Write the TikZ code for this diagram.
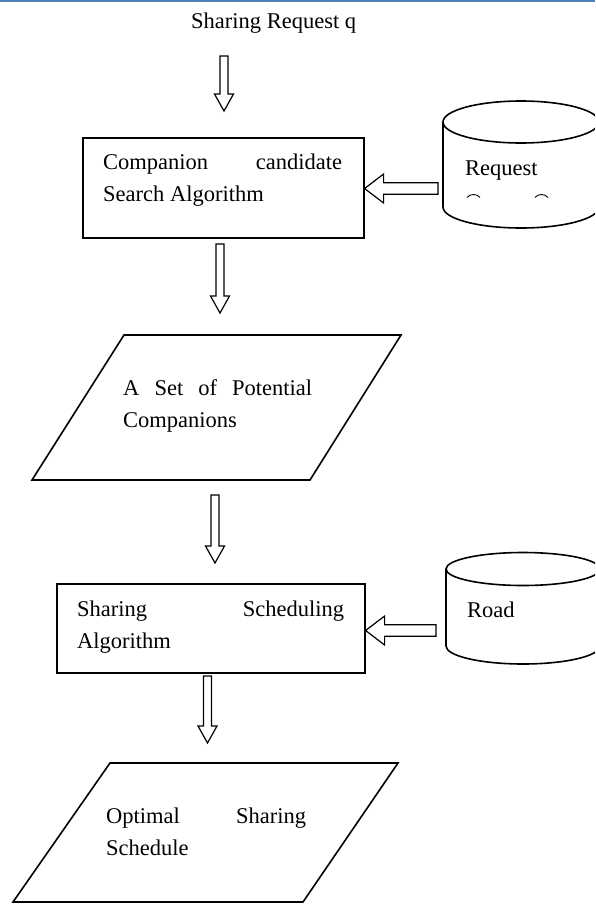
\documentclass[tikz,border=0pt]{standalone}
\usepackage{fontspec}
\setmainfont{Liberation Serif}
\usetikzlibrary{calc}
\definecolor{rulecol}{RGB}{79,129,189}

% hollow block arrow pointing down: #1 = top of shaft, #2 = tip
\newcommand\downblock[2]{%
  \draw[blockarrow] let \p1=(#1), \p2=(#2) in
    (\x1-4pt,\y1) -- (\x1+4pt,\y1) -- (\x1+4pt,\y2+17pt) -- (\x1+9.5pt,\y2+17pt)
    -- (\x1,\y2) -- (\x1-9.5pt,\y2+17pt) -- (\x1-4pt,\y2+17pt) -- cycle;}
% hollow block arrow pointing left: #1 = tail of shaft, #2 = tip
\newcommand\leftblock[2]{%
  \draw[blockarrow] let \p1=(#1), \p2=(#2) in
    (\x1,\y1-5.75pt) -- (\x1,\y1+5.75pt) -- (\x2+19pt,\y1+5.75pt) -- (\x2+19pt,\y1+14.5pt)
    -- (\x2,\y1) -- (\x2+19pt,\y1-14.5pt) -- (\x2+19pt,\y1-5.75pt) -- cycle;}

\begin{document}
\begin{tikzpicture}[x=1pt,y=-1pt,
  outline/.style={draw=black, line width=1.6pt, fill=white, line join=miter},
  blockarrow/.style={draw=black, line width=1.2pt, fill=white, line join=miter},
  txt/.style={font=\fontsize{22.5}{32}\selectfont, inner sep=0pt, anchor=base west},
  procbox/.style={outline, rectangle, inner sep=0pt, anchor=north west}]

\useasboundingbox (0,0) rectangle (595,911);
\clip (0,0) rectangle (595,911);
\fill[white] (0,0) rectangle (595,911);

% rule along the top edge
\draw[rulecol, line width=2pt] (0,1) -- (595,1);

% input
\node[txt] (input) at (191,28) {Sharing Request q};

% companion search step
\node[procbox, minimum width=281pt, minimum height=100pt] (search) at (82,137) {};
\node[txt] (searchtext) at (103,169)
  {\vtop{\hbox to 239pt{Companion\hfil candidate}\hbox{Search Algorithm}}};

% request store
\draw[outline] (443,122) -- (443,207)
  arc[start angle=180, end angle=0, x radius=78, y radius=21] -- (599,122);
\draw[outline] (521,122) ellipse[x radius=78, y radius=21];
\node[txt] (reqtext) at (465,175) {Request};
\draw[line width=0.9pt] (467,197.5) .. controls (470,193.5) and (477,193.5) .. (480,197.5);
\draw[line width=0.9pt] (535,197.5) .. controls (538,193.5) and (545,193.5) .. (548,197.5);

% candidate set
\draw[outline] (124,335) -- (401,335) -- (310,480) -- (32,480) -- cycle;
\node[txt] (candtext) at (123,395)
  {\vtop{\hbox to 189pt{A\hfil Set\hfil of\hfil Potential}\hbox{Companions}}};

% scheduling step
\node[procbox, minimum width=308pt, minimum height=89pt] (sched) at (56,583) {};
\node[txt] (schedtext) at (77,616)
  {\vtop{\hbox to 267pt{Sharing\hfil Scheduling}\hbox{Algorithm}}};

% road store
\draw[outline] (446,569) -- (446,646)
  arc[start angle=180, end angle=0, x radius=77, y radius=18] -- (600,569);
\draw[outline] (523,569) ellipse[x radius=77, y radius=16.5];
\node[txt] (roadtext) at (467,617) {Road};

% result
\draw[outline] (110,763) -- (398,763) -- (303,902) -- (13,902) -- cycle;
\node[txt] (resulttext) at (106,823)
  {\vtop{\hbox to 200pt{Optimal\hfil Sharing}\hbox{Schedule}}};

% connector ends
\coordinate (a1s) at (224,56);  \coordinate (a1t) at (224,111);
\coordinate (a2s) at (220,244); \coordinate (a2t) at (220,313);
\coordinate (a3s) at (215,495); \coordinate (a3t) at (215,563);
\coordinate (a4s) at (207.5,676); \coordinate (a4t) at (207.5,743);
\coordinate (h1s) at (438,188.5); \coordinate (h1t) at (search.east |- h1s);
\coordinate (h2s) at (436,630.5); \coordinate (h2t) at (sched.east |- h2s);

\downblock{a1s}{a1t}
\downblock{a2s}{a2t}
\downblock{a3s}{a3t}
\downblock{a4s}{a4t}
\leftblock{h1s}{h1t}
\leftblock{h2s}{h2t}

\end{tikzpicture}
\end{document}
